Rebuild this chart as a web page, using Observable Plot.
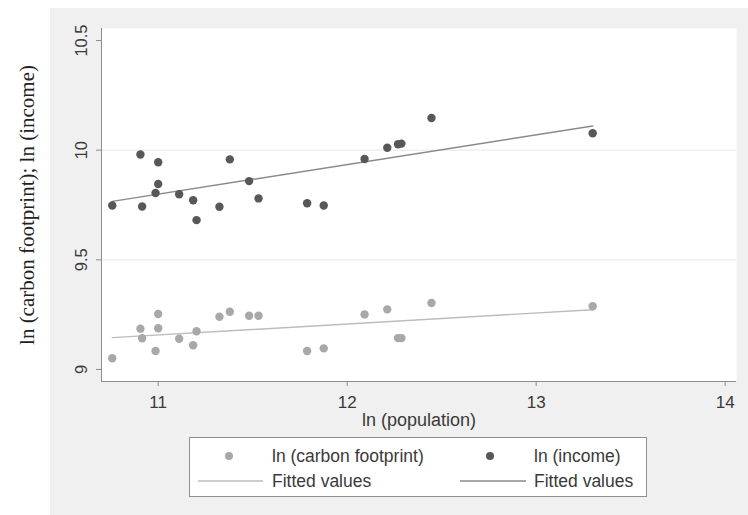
<!DOCTYPE html>
<html>
<head>
<meta charset="utf-8">
<script src="https://cdn.jsdelivr.net/npm/d3@7"></script>
<script src="https://cdn.jsdelivr.net/npm/@observablehq/plot@0.6"></script>
<style>
  html, body { margin: 0; padding: 0; background: white; }
  #wrap { position: relative; width: 748px; height: 515px; background: white; overflow: hidden; }
  #bg { position: absolute; left: 50px; top: 8px; right: 0; bottom: 0; background: #f0f0f0; }
  #chart { position: absolute; left: 0; top: 0; }
  #legend { position: absolute; left: 189px; top: 437px; width: 456px; height: 58px; background: white;
            border: 1px solid #8f8f8f; font-family: "Liberation Sans", Arial, sans-serif; font-size: 17.5px; color: #3a3a3a; }
  #legend .item { position: absolute; white-space: nowrap; line-height: 20px; }
  #legend svg { position: absolute; overflow: visible; }
</style>
</head>
<body>
<div id="wrap">
  <div id="bg"></div>
  <div id="chart"></div>
  <div id="legend"></div>
</div>
<script>
// ---- data ----
const population = [10.757, 10.906, 10.915, 11.000, 11.000, 10.986, 11.111, 11.185, 11.203, 11.324, 11.379,
                    11.481, 11.531, 11.788, 11.876, 12.092, 12.212, 12.269, 12.287, 12.446, 13.299];
const carbonFootprint = [9.051, 9.186, 9.142, 9.253, 9.188, 9.084, 9.140, 9.110, 9.174, 9.240, 9.263,
                         9.245, 9.245, 9.084, 9.096, 9.251, 9.274, 9.143, 9.143, 9.303, 9.288];
const income = [9.748, 9.980, 9.743, 9.945, 9.846, 9.805, 9.799, 9.772, 9.681, 9.742, 9.958,
                9.859, 9.780, 9.758, 9.748, 9.960, 10.011, 10.027, 10.030, 10.147, 10.077];
const xTicks = [11, 12, 13, 14];
const yTicks = [9, 9.5, 10, 10.5];
const yGridTicks = [9.5, 10];
const xDomain = [10.70, 14.06];
const yDomain = [8.945, 10.555];
const xTitle = "ln (population)";
const yTitle = "ln (carbon footprint); ln (income)";
const legendLabels = ["ln (carbon footprint)", "ln (income)", "Fitted values", "Fitted values"];

const carbonColor = "#a8a8a8";
const incomeColor = "#585858";
const carbonLine = "#bcbcbc";
const incomeLine = "#8a8a8a";
const axisColor = "#8c8c8c";

const carbonRows = population.map((p, i) => ({x: p, y: carbonFootprint[i]}));
const incomeRows = population.map((p, i) => ({x: p, y: income[i]}));

const chart = Plot.plot({
  width: 748,
  height: 432,
  marginLeft: 101,
  marginRight: 12,
  marginTop: 28,
  marginBottom: 51,
  x: {domain: xDomain},
  y: {domain: yDomain},
  style: {background: "transparent", fontFamily: "'Liberation Sans', Arial, sans-serif", color: "#3a3a3a", overflow: "visible"},
  marks: [
    Plot.frame({fill: "white", stroke: null}),
    Plot.gridY(yGridTicks, {stroke: "#e6e6e6", strokeOpacity: 1}),
    Plot.ruleX([xDomain[0]], {stroke: axisColor}),
    Plot.ruleY([yDomain[0]], {stroke: axisColor}),
    Plot.axisX(xTicks, {tickSize: 5, tickPadding: 9, stroke: axisColor, fontSize: 17, label: null, tickFormat: d => String(d)}),
    Plot.axisY(yTicks, {tickSize: 5, stroke: axisColor, tickFormat: () => "", label: null}),
    Plot.text(yTicks, {y: d => d, frameAnchor: "left", text: d => String(d), rotate: -90, dx: -20,
                       textAnchor: "middle", lineAnchor: "middle", fontSize: 16.5, fill: "#3a3a3a"}),
    Plot.text([xTitle], {frameAnchor: "bottom", dy: 39, lineAnchor: "middle", fontSize: 18, fill: "#3a3a3a"}),
    Plot.text([yTitle], {frameAnchor: "left", dx: -74, rotate: -90, lineAnchor: "middle", textAnchor: "middle",
                         fontSize: 21, fontFamily: "'Liberation Serif', 'Times New Roman', serif", fill: "#222"}),
    Plot.linearRegressionY(carbonRows, {x: "x", y: "y", ci: 0, stroke: carbonLine, strokeWidth: 1.4}),
    Plot.linearRegressionY(incomeRows, {x: "x", y: "y", ci: 0, stroke: incomeLine, strokeWidth: 1.5}),
    Plot.dot(carbonRows, {x: "x", y: "y", r: 4.2, fill: carbonColor, stroke: null}),
    Plot.dot(incomeRows, {x: "x", y: "y", r: 4.2, fill: incomeColor, stroke: null})
  ]
});
document.getElementById("chart").appendChild(chart);

// ---- legend ----
const legend = d3.select("#legend");
const entries = [
  {kind: "dot", color: carbonColor, sx: 39, tx: 82, cy: 18, label: legendLabels[0]},
  {kind: "dot", color: incomeColor, sx: 300, tx: 344, cy: 18, label: legendLabels[1]},
  {kind: "line", color: carbonLine, sx: 8, ex: 73, tx: 82, cy: 43, label: legendLabels[2]},
  {kind: "line", color: incomeLine, sx: 270, ex: 336, tx: 344, cy: 43, label: legendLabels[3]}
];
entries.forEach(e => {
  const s = legend.append("svg").attr("width", 1).attr("height", 1).style("left", "0px").style("top", "0px");
  if (e.kind === "dot") {
    s.append("circle").attr("cx", e.sx).attr("cy", e.cy).attr("r", 4).attr("fill", e.color);
  } else {
    s.append("line").attr("x1", e.sx).attr("x2", e.ex).attr("y1", e.cy).attr("y2", e.cy)
      .attr("stroke", e.color).attr("stroke-width", 1.4);
  }
  legend.append("div").attr("class", "item").style("left", e.tx + "px").style("top", (e.cy - 10) + "px").text(e.label);
});
</script>
</body>
</html>
